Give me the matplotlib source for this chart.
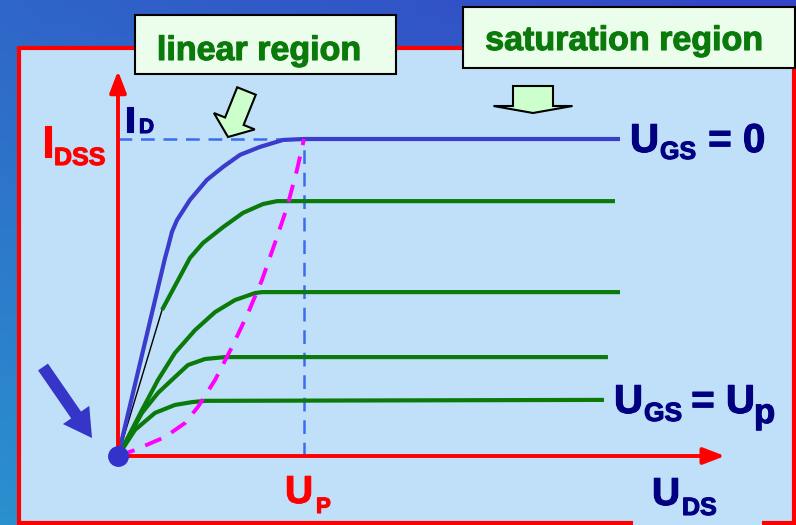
import numpy as np
import matplotlib
matplotlib.use("Agg")
import matplotlib.pyplot as plt
import matplotlib.patheffects as pe
from matplotlib.patches import Rectangle, FancyArrow
from matplotlib.colors import to_rgb

plt.rcParams['font.family'] = ['Liberation Sans', 'DejaVu Sans']

# curves, U_DS in units of U_P, I_D in units of I_DSS
x_ugs0 = [0, 0.253, 0.269, 0.290, 0.317, 0.387, 0.478, 0.565, 0.656, 0.763, 0.887, 1.0, 2.699]
y_ugs0 = [0, 0.625, 0.659, 0.707, 0.744, 0.808, 0.871, 0.912, 0.950, 0.975, 0.997, 1.0, 1.0]

x_g1 = [0.237, 0.280, 0.323, 0.387, 0.457, 0.565, 0.672, 0.780, 0.855, 0.925, 2.672]
y_g1 = [0.461, 0.508, 0.555, 0.625, 0.672, 0.722, 0.767, 0.795, 0.804, 0.804, 0.804]
x_g1_start = [0, 0.237]
y_g1_start = [0, 0.461]

x_g2 = [0, 0.038, 0.129, 0.215, 0.306, 0.414, 0.522, 0.629, 0.737, 0.774, 2.699]
y_g2 = [0, 0.041, 0.145, 0.240, 0.325, 0.397, 0.454, 0.492, 0.514, 0.517, 0.517]

x_g3 = [0, 0.129, 0.215, 0.306, 0.376, 0.468, 0.575, 2.634]
y_g3 = [0, 0.136, 0.199, 0.249, 0.287, 0.306, 0.312, 0.312]

x_g4 = [0, 0.091, 0.199, 0.306, 0.398, 0.468, 2.613]
y_g4 = [0, 0.082, 0.136, 0.161, 0.170, 0.174, 0.177]

# pinch-off boundary
x_pinch = [0, 0.091, 0.253, 0.360, 0.430, 0.522, 0.613, 0.699, 0.774, 0.855, 0.909, 0.962, 1.0]
y_pinch = [0, 0.019, 0.060, 0.104, 0.155, 0.240, 0.344, 0.451, 0.555, 0.691, 0.785, 0.902, 1.0]

u_p = 1.0
i_dss = 1.0
x_axis_end = 3.263
y_axis_end = 1.215

panel = '#c0e0fa'
navy = '#000080'
green = '#0a7a0a'

fig = plt.figure(figsize=(7.96, 5.25), dpi=100)

# background layer in pixels
bg = fig.add_axes([0, 0, 1, 1])
bg.set_xlim(0, 796)
bg.set_ylim(525, 0)
bg.axis('off')

tl, tr, bl, br = [np.array(to_rgb(c)) for c in ('#2f66c8', '#3444c6', '#2a90ce', '#3070c8')]
u = np.linspace(0, 1, 80)[None, :, None]
v = np.linspace(0, 1, 60)[:, None, None]
grad = (1 - v) * ((1 - u) * tl + u * tr) + v * ((1 - u) * bl + u * br)
bg.imshow(grad, extent=(0, 796, 525, 0), aspect='auto', zorder=0)

bg.add_patch(Rectangle((19, 48), 775, 475, facecolor=panel, edgecolor='red', lw=3, zorder=1))
bg.add_patch(Rectangle((633, 515), 129, 12, facecolor=panel, edgecolor='none', zorder=2))

# label boxes
bold = [pe.withStroke(linewidth=0.8, foreground=green)]
bg.add_patch(Rectangle((135, 15), 261, 59, facecolor='#ebfdeb', edgecolor='black', lw=1.5, zorder=3))
bg.add_patch(Rectangle((463, 7), 332, 61, facecolor='#ebfdeb', edgecolor='black', lw=1.5, zorder=3))
bg.text(259, 60, 'linear region', fontsize=24.5, color=green, fontweight='bold',
        ha='center', va='baseline', zorder=4, path_effects=bold)
bg.text(624, 50, 'saturation region', fontsize=24.5, color=green, fontweight='bold',
        ha='center', va='baseline', zorder=4, path_effects=bold)

# block arrows
bg.add_patch(FancyArrow(246.5, 91, -18.5, 46, width=20, head_width=44, head_length=17,
                        length_includes_head=True, facecolor='#ccffcc', edgecolor='black', lw=1.5, zorder=4))
bg.add_patch(FancyArrow(533, 86, 0, 27, width=40, head_width=79, head_length=7,
                        length_includes_head=True, facecolor='#ccffcc', edgecolor='black', lw=1.5, zorder=4))
bg.add_patch(FancyArrow(43, 367, 49, 71, width=12, head_width=32, head_length=28,
                        length_includes_head=True, facecolor='#3535c8', edgecolor='none', zorder=4))

# axis labels
def lab(x, y, s, size, color):
    bg.text(x, y, s, fontsize=size, color=color, fontweight='bold', ha='left', va='baseline', zorder=4,
            path_effects=[pe.withStroke(linewidth=0.8, foreground=color)])

lab(42, 157, 'I', 32, 'red')
lab(54, 165, 'DSS', 18, 'red')
lab(125, 132, 'I', 26, navy)
lab(139, 133, 'D', 15, navy)
lab(285, 503, 'U', 28, 'red')
lab(316, 513, 'P', 16, 'red')
lab(652, 505, 'U', 28, navy)
lab(682, 515, 'DS', 18, navy)
lab(630, 152, 'U', 29, navy)
lab(660, 159, 'GS', 18, navy)
lab(697, 152, ' = 0', 29, navy)
lab(614, 413, 'U', 29, navy)
lab(644, 421, 'GS', 19, navy)
lab(680, 413, ' = U', 29, navy)
lab(754, 423, 'p', 25, navy)

# data layer
ax = fig.add_axes([0, 0, 1, 1])
ax.set_xlim(-118 / 186, 678 / 186)
ax.set_ylim(-69 / 317, 456 / 317)
ax.axis('off')
ax.patch.set_alpha(0)

ax.plot([0, u_p], [i_dss, i_dss], color='#3b6cf0', lw=1.8, ls=(0, (5.5, 3.5)))
ax.plot([u_p, u_p], [0, i_dss], color='#3b6cf0', lw=1.8, ls=(0, (5.5, 3.5)))

ax.plot(x_g1_start, y_g1_start, color='black', lw=1)
for xs, ys in [(x_g1, y_g1), (x_g2, y_g2), (x_g3, y_g3), (x_g4, y_g4)]:
    ax.plot(xs, ys, color=green, lw=3, solid_capstyle='butt', solid_joinstyle='round')
ax.plot(x_ugs0, y_ugs0, color='#3b3bcc', lw=3, solid_capstyle='butt', solid_joinstyle='round')
ax.plot(x_pinch, y_pinch, color='#ff00ff', lw=2.8, ls=(0, (4.5, 3)))

arrow = dict(arrowstyle='-|>,head_length=1.3,head_width=0.5', color='red', lw=2.8, shrinkA=0, shrinkB=0)
ax.annotate('', xy=(0, y_axis_end), xytext=(0, 0), arrowprops=arrow)
ax.annotate('', xy=(x_axis_end, 0), xytext=(0, 0), arrowprops=arrow)
ax.plot([0], [0], 'o', ms=14, color='#3333cc', zorder=5)

fig.savefig('out.png', dpi=100)
